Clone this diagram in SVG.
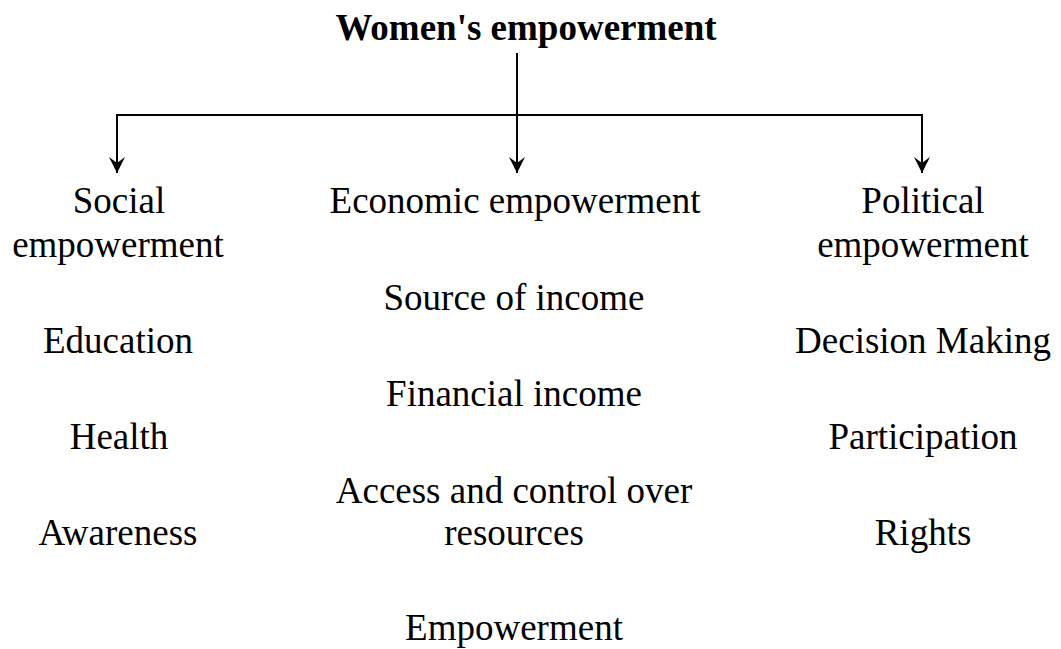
<svg xmlns="http://www.w3.org/2000/svg" width="1061" height="649" viewBox="0 0 1061 649">
<style>
text{font-family:"Liberation Serif","Times New Roman",serif;font-size:37px;fill:#000;text-anchor:middle}
.title{font-weight:bold}
.conn{fill:none;stroke:#000;stroke-width:2}
</style>
<defs>
<marker id="arr" viewBox="0 0 16 16" refX="16" refY="8" markerWidth="16" markerHeight="16" markerUnits="userSpaceOnUse" orient="auto">
<path d="M0,0 L16,8 L0,16 L6,8 Z" fill="#000"/>
</marker>
</defs>
<rect width="1061" height="649" fill="#fff"/>
<g id="connectors">
<path class="conn" d="M117,115 H922"/>
<path class="conn" d="M517,53 V173" marker-end="url(#arr)"/>
<path class="conn" d="M117,114 V173" marker-end="url(#arr)"/>
<path class="conn" d="M922,114 V173" marker-end="url(#arr)"/>
</g>
<g id="title"><text class="title" x="526" y="40">Women's empowerment</text></g>
<g id="social">
<text x="119" y="213">Social</text>
<text x="118" y="257">empowerment</text>
</g>
<g id="economic"><text x="515" y="213">Economic empowerment</text></g>
<g id="political">
<text x="923" y="213">Political</text>
<text x="923" y="257">empowerment</text>
</g>
<g id="education"><text x="118" y="353">Education</text></g>
<g id="source"><text x="514" y="310">Source of income</text></g>
<g id="decision"><text x="923" y="353">Decision Making</text></g>
<g id="financial"><text x="514" y="406">Financial income</text></g>
<g id="health"><text x="119" y="449">Health</text></g>
<g id="participation"><text x="923" y="449">Participation</text></g>
<g id="access">
<text x="514" y="503">Access and control over</text>
<text x="514" y="545">resources</text>
</g>
<g id="awareness"><text x="118" y="545">Awareness</text></g>
<g id="rights"><text x="923" y="545">Rights</text></g>
<g id="empowerment"><text x="514" y="640">Empowerment</text></g>
</svg>
